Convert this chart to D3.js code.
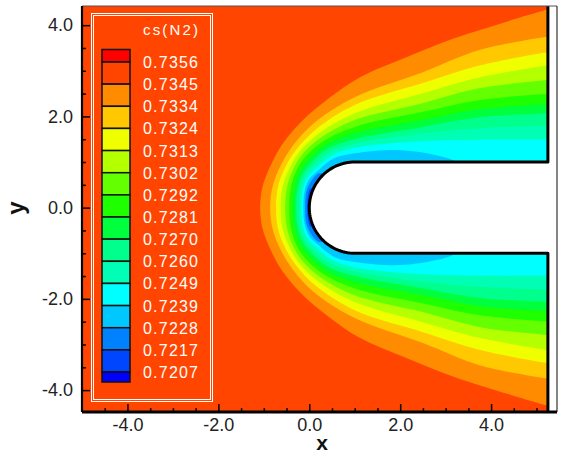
<!DOCTYPE html>
<html><head><meta charset="utf-8">
<script src="https://cdn.jsdelivr.net/npm/d3@7"></script>
<style>body{margin:0;background:#fff}svg{display:block}</style>
</head><body><svg id="c" width="563" height="456"></svg>
<script>
// ---------- data ----------
const legendTitle = "cs(N2)";
const levelLabels = ["0.7356","0.7345","0.7334","0.7324","0.7313","0.7302","0.7292","0.7281","0.7270","0.7260","0.7249","0.7239","0.7228","0.7217","0.7207"];
const bandColors = ["#ff0000","#ff4500","#ff8c00","#ffc800","#f0ff00","#b4ff00","#64ff00","#1eff00","#00ff3c","#00ff8c","#00ffb4","#00ffff","#00c8ff","#0082ff","#0046ff","#0000ff"];
const xTickValues = [-4,-2,0,2,4];
const xTickLabels = ["-4.0","-2.0","0.0","2.0","4.0"];
const yTickValues = [4,2,0,-2,-4];
const yTickLabels = ["4.0","2.0","0.0","-2.0","-4.0"];
const xMinorTicks = [-4.5,-3.5,-3,-2.5,-1.5,-1,-0.5,0.5,1,1.5,2.5,3,3.5,4.5,5];
const yMinorTicks = [3.5,3,2.5,1.5,1,0.5,-0.5,-1,-1.5,-2.5,-3,-3.5];

// contour lines (upper half; the field is mirrored about y = 0)
const iso7345 = [[-1.08,0],[-1.03,0.45],[-0.86,0.90],[-0.60,1.38],[-0.16,1.90],[0.46,2.42],[1.12,2.86],[2.07,3.27],[3.16,3.70],[4.42,4.10],[5.3,4.36]];
const iso7334 = [[-0.86,0],[-0.81,0.45],[-0.64,0.90],[-0.36,1.36],[0.10,1.85],[1.0,2.42],[2.5,2.97],[3.76,3.46],[5.3,3.76]];
const iso7324 = [[-0.73,0],[-0.69,0.45],[-0.53,0.88],[-0.28,1.28],[0.15,1.72],[1.0,2.25],[2.5,2.73],[3.76,3.12],[5.3,3.42]];
const iso7313 = [[-0.63,0],[-0.59,0.45],[-0.44,0.86],[-0.22,1.22],[0.20,1.62],[1.0,2.07],[2.5,2.51],[3.76,2.86],[5.3,3.13]];
const iso7302 = [[-0.53,0],[-0.49,0.45],[-0.36,0.83],[-0.16,1.16],[0.25,1.53],[1.0,1.92],[2.5,2.29],[3.76,2.62],[5.3,2.80]];
const iso7292 = [[-0.44,0],[-0.41,0.42],[-0.29,0.80],[-0.10,1.10],[0.30,1.45],[1.0,1.77],[2.5,2.10],[3.76,2.36],[5.3,2.50]];
const iso7281 = [[-0.36,0],[-0.33,0.40],[-0.22,0.77],[-0.03,1.04],[0.35,1.37],[1.0,1.63],[2.5,1.92],[3.76,2.16],[5.3,2.27]];
const iso7270 = [[-0.29,0],[-0.26,0.40],[-0.15,0.73],[0.03,0.97],[0.40,1.29],[1.0,1.50],[2.5,1.77],[3.76,1.98],[5.3,2.07]];
const iso7260 = [[-0.23,0],[-0.20,0.40],[-0.10,0.70],[0.08,0.92],[0.45,1.22],[1.0,1.40],[2.5,1.63],[3.76,1.74],[5.3,1.80]];
const iso7249 = [[-0.175,0],[-0.15,0.38],[-0.05,0.66],[0.14,0.86],[0.50,1.15],[1.0,1.31],[2.5,1.46],[3.76,1.49],[5.3,1.49]];
const iso7239 = [[-0.13,0],[-0.10,0.37],[0.0,0.62],[0.19,0.81],[0.55,1.08],[1.0,1.19],[2.0,1.26],[2.8,1.15],[3.2,1.02],[3.4,0.85]];
const iso7228 = [[-0.09,0],[-0.065,0.35],[0.04,0.58],[0.20,0.75],[0.40,0.72]];
const iso7217 = [[-0.045,0],[-0.03,0.25],[0.03,0.42],[0.12,0.40]];
const isolines = [iso7345,iso7334,iso7324,iso7313,iso7302,iso7292,iso7281,iso7270,iso7260,iso7249,iso7239,iso7228,iso7217];

// geometry of the domain (data units)
const xDomain = [-5, 5.45];
const yDomain = [-4.48, 4.42];
const outflowX = 5.25;
const bodyCenterX = 1, bodyRadius = 1;

// ---------- drawing ----------
const svg = d3.select("#c");
const x = d3.scaleLinear().domain(xDomain).range([82, 557]);
const y = d3.scaleLinear().domain(yDomain).range([412, 6]);
const font = "'Liberation Sans', Arial, Helvetica, sans-serif";

svg.append("defs").append("clipPath").attr("id","dom")
  .append("rect").attr("x", x(xDomain[0])).attr("y", y(yDomain[1]))
  .attr("width", x(outflowX) - x(xDomain[0])).attr("height", y(yDomain[0]) - y(yDomain[1]));

const field = svg.append("g").attr("clip-path","url(#dom)");
field.append("rect").attr("x", x(xDomain[0])).attr("y", y(yDomain[1]))
  .attr("width", x(xDomain[1]) - x(xDomain[0])).attr("height", y(yDomain[0]) - y(yDomain[1]))
  .attr("fill", bandColors[1]);

const curve = d3.line().x(d => x(d[0])).y(d => y(d[1])).curve(d3.curveCatmullRom.alpha(0.5));
isolines.forEach((pts, k) => {
  const upper = pts.slice().reverse();
  const lower = pts.slice(1).map(p => [p[0], -p[1]]);
  const full = upper.concat(lower);
  const end = full[full.length-1], start = full[0];
  let d = curve(full);
  if (end[0] >= outflowX) {
    d += "L" + x(6) + "," + y(end[1]) + "L" + x(6) + "," + y(start[1]);
  }
  d += "Z";
  field.append("path").attr("d", d).attr("fill", bandColors[k+2]);
});

// body (hemisphere-cylinder)
const arcPts = d3.range(90, 270.1, 3).map(a => [bodyCenterX + bodyRadius*Math.cos(a*Math.PI/180), bodyRadius*Math.sin(a*Math.PI/180)]);
const bodyPts = [[6, bodyRadius]].concat(arcPts, [[6, -bodyRadius]]);
const lin = d3.line().x(d => x(d[0])).y(d => y(d[1]));
svg.append("path").attr("d", lin(bodyPts) + "Z").attr("fill", "#fff");
// white strip beyond outflow
svg.append("rect").attr("x", x(outflowX)).attr("y", y(yDomain[1]))
  .attr("width", x(xDomain[1]) - x(outflowX)).attr("height", y(yDomain[0]) - y(yDomain[1])).attr("fill","#fff");
// domain outline
const outlinePts = [[outflowX, yDomain[1]],[outflowX, bodyRadius]].concat(arcPts, [[outflowX, -bodyRadius],[outflowX, yDomain[0]]]);
svg.append("path").attr("d", lin(outlinePts)).attr("fill","none").attr("stroke","#000")
  .attr("stroke-width",3).attr("stroke-linejoin","round");

// frame
svg.append("line").attr("x1", x(xDomain[0])).attr("x2", x(xDomain[1])).attr("y1", y(yDomain[1])).attr("y2", y(yDomain[1]))
  .attr("stroke","#555").attr("stroke-width",1.2);
svg.append("line").attr("x1", x(xDomain[1])).attr("x2", x(xDomain[1])).attr("y1", y(yDomain[1])).attr("y2", y(yDomain[0]))
  .attr("stroke","#333").attr("stroke-width",1.2);

// axes
svg.append("g").attr("transform", `translate(0,${y(yDomain[0])})`)
  .call(d3.axisBottom(x).tickValues(xTickValues).tickFormat((d,i)=>xTickLabels[i]).tickSizeInner(-8).tickSizeOuter(0).tickPadding(6));
svg.append("g").attr("transform", `translate(0,${y(yDomain[0])})`)
  .call(d3.axisBottom(x).tickValues(xMinorTicks).tickFormat("").tickSizeInner(-4).tickSizeOuter(0));
svg.append("g").attr("transform", `translate(${x(xDomain[0])},0)`)
  .call(d3.axisLeft(y).tickValues(yTickValues).tickFormat((d,i)=>yTickLabels[i]).tickSizeInner(-8).tickSizeOuter(0).tickPadding(9));
svg.append("g").attr("transform", `translate(${x(xDomain[0])},0)`)
  .call(d3.axisLeft(y).tickValues(yMinorTicks).tickFormat("").tickSizeInner(-4).tickSizeOuter(0));
svg.selectAll(".domain").remove();
svg.selectAll(".tick line").attr("stroke","#000").attr("stroke-width",1.5);
svg.selectAll(".tick text").attr("font-family", font).attr("font-size", 18).attr("fill","#222");

// axis lines
svg.append("line").attr("x1", x(xDomain[0])).attr("x2", x(xDomain[1])).attr("y1", y(yDomain[0])).attr("y2", y(yDomain[0]))
  .attr("stroke","#000").attr("stroke-width",3);
svg.append("line").attr("x1", x(xDomain[0])).attr("x2", x(xDomain[0])).attr("y1", y(yDomain[1])).attr("y2", y(yDomain[0]))
  .attr("stroke","#000").attr("stroke-width",2.2);

// axis titles
svg.append("text").attr("x", 322).attr("y", 450).attr("text-anchor","middle")
  .attr("font-family", font).attr("font-weight","bold").attr("font-size",21).attr("fill","#111").text("x");
svg.append("text").attr("transform","translate(24,208) rotate(-90)").attr("text-anchor","middle")
  .attr("font-family", font).attr("font-weight","bold").attr("font-size",24).attr("fill","#111").text("y");

// legend
const lg = svg.append("g");
lg.append("rect").attr("x",91.5).attr("y",13.5).attr("width",121).attr("height",388).attr("fill","none").attr("stroke","#fff").attr("stroke-width",1);
lg.append("rect").attr("x",93.5).attr("y",15.5).attr("width",117).attr("height",384).attr("fill","none").attr("stroke","#fff").attr("stroke-width",1);
lg.append("text").attr("x",143).attr("y",35).attr("font-family",font).attr("font-size",15)
  .attr("textLength",55).attr("lengthAdjust","spacing").attr("fill","#fff").text(legendTitle);
const ly = d3.scaleLinear().domain([0, levelLabels.length-1]).range([62, 372]);
bandColors.forEach((c, i) => {
  let y0, y1;
  if (i === 0) { y0 = ly(0) - 12.5; y1 = ly(0); }
  else if (i === bandColors.length-1) { y0 = ly(levelLabels.length-1); y1 = y0 + 10; }
  else { y0 = ly(i-1); y1 = ly(i); }
  lg.append("rect").attr("x",102).attr("y",y0).attr("width",28).attr("height",y1-y0)
    .attr("fill",c).attr("stroke","#111").attr("stroke-width",1.5);
});
levelLabels.forEach((t,i) => {
  lg.append("text").attr("x",143).attr("y",ly(i)+6).attr("font-family",font).attr("font-size",16)
    .attr("textLength",55).attr("lengthAdjust","spacing").attr("fill","#fff").text(t);
});
</script></body></html>
